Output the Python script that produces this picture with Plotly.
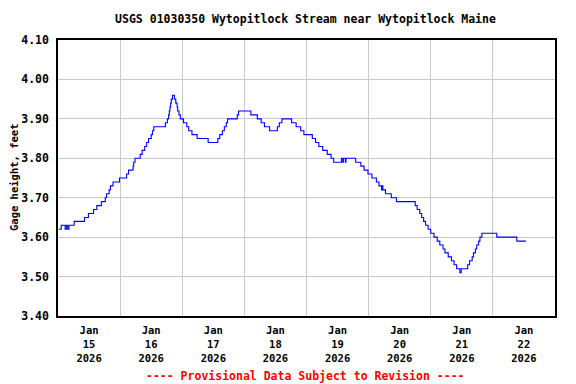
import pandas as pd
import plotly.graph_objects as go

title = "USGS 01030350 Wytopitlock Stream near Wytopitlock Maine"
y_label = "Gage height, feet"
note = "---- Provisional Data Subject to Revision ----"
start = "2026-01-15 00:00"
x_range = ["2026-01-15 00:00", "2026-01-23 00:00"]
y_range = [3.40, 4.10]

# hours after start (change points of the stepped gage record)
hours = [0.25, 1.25, 2.75, 3.25, 3.75, 4.25, 6.25, 10.25, 11.75, 13.75,
         15, 16.75, 18.25, 18.75, 19.75, 20.25, 21.25, 23.75, 26.5, 27.25,
         29, 29.25, 29.75, 31.75, 32.5, 33.5, 34.25, 35, 36, 36.5,
         37, 41.5, 42.25, 42.75, 43, 43.25, 43.5, 43.75, 44.25, 45,
         45.5, 46, 46.25, 46.75, 47.25, 48.5, 49.75, 50.5, 51.75, 53.75,
         58, 61.75, 62.5, 63.5, 64.25, 65, 65.5, 69.25, 69.75, 74.5,
         77, 78.5, 79.75, 81.75, 84.75, 85.5, 86.5, 90.25, 92, 93.75,
         95, 98.25, 99.5, 100.75, 102.25, 104, 105.5, 106.5, 109.5, 110,
         110.25, 111, 111.25, 115, 117, 118.25, 119.75, 121.25, 123, 124,
         125, 125.25, 125.5, 126.5, 128.75, 130.75, 138, 138.75, 139.75, 140.5,
         141.25, 142, 143, 144, 145.25, 146.5, 147.5, 148.75, 149.5, 150.75,
         152, 153, 154, 155.25, 155.75, 158.25, 159, 160, 160.5, 161.25,
         161.75, 162.5, 163, 163.75, 169.5, 177.25, 180.75]

gage_ft = [3.62, 3.63, 3.62, 3.63, 3.62, 3.63, 3.64, 3.65, 3.66, 3.67,
           3.68, 3.69, 3.70, 3.71, 3.72, 3.73, 3.74, 3.75, 3.76, 3.77,
           3.78, 3.79, 3.80, 3.81, 3.82, 3.83, 3.84, 3.85, 3.86, 3.87,
           3.88, 3.89, 3.90, 3.91, 3.92, 3.93, 3.94, 3.95, 3.96, 3.95,
           3.94, 3.93, 3.92, 3.91, 3.90, 3.89, 3.88, 3.87, 3.86, 3.85,
           3.84, 3.85, 3.86, 3.87, 3.88, 3.89, 3.90, 3.91, 3.92, 3.91,
           3.90, 3.89, 3.88, 3.87, 3.88, 3.89, 3.90, 3.89, 3.88, 3.87,
           3.86, 3.85, 3.84, 3.83, 3.82, 3.81, 3.80, 3.79, 3.80, 3.79,
           3.80, 3.79, 3.80, 3.79, 3.78, 3.77, 3.76, 3.75, 3.74, 3.73,
           3.72, 3.73, 3.72, 3.71, 3.70, 3.69, 3.68, 3.67, 3.66, 3.65,
           3.64, 3.63, 3.62, 3.61, 3.60, 3.59, 3.58, 3.57, 3.56, 3.55,
           3.54, 3.53, 3.52, 3.51, 3.52, 3.53, 3.54, 3.55, 3.56, 3.57,
           3.58, 3.59, 3.60, 3.61, 3.60, 3.59, 3.59]

times = pd.Timestamp(start) + pd.to_timedelta(hours, unit="h")

FONT = "DejaVu Sans Mono"
FS = 11.5
XFS = 10.5

# the page body adds an 8px offset, so the figure is 8px smaller
W, H = 568, 376
L, R, T, B = 50, 21, 32, 68
PW, PH = W - L - R, H - T - B

fig = go.Figure()
fig.add_trace(go.Scatter(x=times, y=gage_ft, mode="lines", line_shape="hv",
                         line=dict(color="#0000ff", width=1.1),
                         showlegend=False, hoverinfo="skip"))

fig.update_layout(
    width=W, height=H,
    margin=dict(l=L, r=R, t=T, b=B, autoexpand=False),
    paper_bgcolor="white", plot_bgcolor="white",
    font=dict(family=FONT, size=FS, color="black"),
    title=dict(text="<b>" + title + "</b>", x=(297.5 - L) / PW, xanchor="center",
               xref="paper", y=1 - 11 / H, yanchor="middle",
               font=dict(family=FONT, size=FS, color="black")),
    xaxis=dict(type="date", range=x_range, dtick=86400000,
               tick0="2026-01-15", ticklabelmode="period", automargin=False,
               tickformat="<b>%b</b><br><b>%d</b><br><b>%Y</b>",
               showgrid=True, gridcolor="#c8c8c8", gridwidth=1,
               showline=True, linecolor="black", linewidth=1.5, mirror=True,
               ticks="outside", ticklen=4, tickcolor="rgba(0,0,0,0)",
               zeroline=False,
               tickfont=dict(family=FONT, size=XFS, color="black")),
    yaxis=dict(range=y_range, dtick=0.1, tick0=3.4, tickformat=".2f",
               automargin=False,
               showgrid=True, gridcolor="#c8c8c8", gridwidth=1,
               showline=True, linecolor="black", linewidth=1.5, mirror=True,
               ticks="outside", ticklen=5, tickcolor="rgba(0,0,0,0)",
               zeroline=False,
               tickprefix="<b>", ticksuffix="</b>",
               tickfont=dict(family=FONT, size=FS, color="black")),
    annotations=[
        dict(text="<b>" + note + "</b>", xref="paper", yref="paper",
             x=(297.5 - L) / PW, y=-(368 - (H - B)) / PH,
             xanchor="center", yanchor="middle", showarrow=False,
             font=dict(family=FONT, size=FS, color="#ff0000")),
        dict(text="<b>" + y_label + "</b>", xref="paper", yref="paper",
             x=(6 - L) / PW, y=0.5, textangle=-90,
             xanchor="center", yanchor="middle", showarrow=False,
             font=dict(family=FONT, size=10.5, color="black")),
    ],
)

fig.write_html("out.html")
